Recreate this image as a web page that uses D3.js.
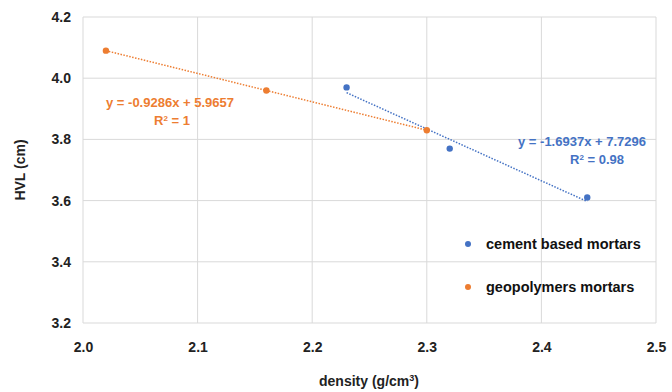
<!DOCTYPE html>
<html><head><meta charset="utf-8">
<script src="https://cdn.jsdelivr.net/npm/d3@7/dist/d3.min.js"></script>
<style>body{margin:0;background:#fff}svg{display:block}text{font-family:"Liberation Sans Narrow","Liberation Sans",Arial,sans-serif}</style>
</head><body><div id="c"></div>
<script>
const cementX = [2.23, 2.32, 2.44];
const cementY = [3.97, 3.77, 3.61];
const geoX = [2.02, 2.16, 2.30];
const geoY = [4.09, 3.96, 3.83];
const seriesNames = ["cement based mortars", "geopolymers mortars"];
const cementFit = {slope: -1.6937, intercept: 7.7296, label: "y = -1.6937x + 7.7296", r2: "R² = 0.98"};
const geoFit = {slope: -0.9286, intercept: 5.9657, label: "y = -0.9286x + 5.9657", r2: "R² = 1"};
const xTicks = [2.0, 2.1, 2.2, 2.3, 2.4, 2.5];
const yTicks = [3.2, 3.4, 3.6, 3.8, 4.0, 4.2];

const W = 672, H = 392;
const m = {l: 83, r: 16, t: 17, b: 69};
const svg = d3.select("#c").append("svg").attr("width", W).attr("height", H);
const x = d3.scaleLinear().domain([2.0, 2.5]).range([m.l, W - m.r]);
const y = d3.scaleLinear().domain([3.2, 4.2]).range([H - m.b, m.t]);
const blue = "#4472C4", orange = "#ED7D31";

// grid
const g = svg.append("g");
g.selectAll(".gy").data(yTicks).join("line")
  .attr("x1", x(2.0)).attr("x2", x(2.5)).attr("y1", d => y(d)).attr("y2", d => y(d))
  .attr("stroke", "#d9d9d9").attr("stroke-width", 1);
g.selectAll(".gx").data(xTicks).join("line")
  .attr("y1", y(3.2)).attr("y2", y(4.2)).attr("x1", d => x(d)).attr("x2", d => x(d))
  .attr("stroke", "#d9d9d9").attr("stroke-width", 1);

// axes labels via d3 axes
const ax = svg.append("g").attr("transform", `translate(0,${y(3.2)})`)
  .call(d3.axisBottom(x).tickValues(xTicks).tickFormat(d3.format(".1f")).tickSize(0).tickPadding(19));
ax.select(".domain").remove();
ax.selectAll("text").attr("font-size", 14).attr("font-weight", "bold").attr("fill", "#222");
const ay = svg.append("g").attr("transform", `translate(${x(2.0)},0)`)
  .call(d3.axisLeft(y).tickValues(yTicks).tickFormat(d3.format(".1f")).tickSize(0).tickPadding(12));
ay.select(".domain").remove();
ay.selectAll("text").attr("font-size", 14).attr("font-weight", "bold").attr("fill", "#222");

svg.append("text").attr("x", 369).attr("y", 386).attr("text-anchor", "middle")
  .attr("font-size", 14).attr("font-weight", "bold").attr("fill", "#222")
  .html('density (g/cm<tspan baseline-shift="super" font-size="9">3</tspan>)');
svg.append("text").attr("transform", "translate(25,170) rotate(-90)").attr("text-anchor", "middle")
  .attr("font-size", 14).attr("font-weight", "bold").attr("fill", "#222").text("HVL (cm)");

// trendlines
function trend(xs, fit, color) {
  const x0 = d3.min(xs), x1 = d3.max(xs);
  svg.append("line").attr("x1", x(x0)).attr("y1", y(fit.slope * x0 + fit.intercept))
    .attr("x2", x(x1)).attr("y2", y(fit.slope * x1 + fit.intercept))
    .attr("stroke", color).attr("stroke-width", 1.5).attr("stroke-dasharray", "1.5,1.5");
}
trend(geoX, geoFit, orange);
trend(cementX, cementFit, blue);

// points
function pts(xs, ys, color) {
  svg.append("g").selectAll("circle").data(xs.map((d, i) => [d, ys[i]])).join("circle")
    .attr("cx", d => x(d[0])).attr("cy", d => y(d[1])).attr("r", 3.2).attr("fill", color);
}
pts(geoX, geoY, orange);
pts(cementX, cementY, blue);

// equations
function eq(cx, cy, fit, color, r2x) {
  svg.append("text").attr("x", cx).attr("y", cy).attr("text-anchor", "middle")
    .attr("font-size", 13).attr("font-weight", "bold").attr("fill", color).text(fit.label);
  svg.append("text").attr("x", r2x).attr("y", cy + 18).attr("text-anchor", "middle")
    .attr("font-size", 13).attr("font-weight", "bold").attr("fill", color)
    .html(fit.r2.replace("²", '<tspan baseline-shift="super" font-size="8">2</tspan>'));
}
eq(170, 107, geoFit, orange, 172);
eq(582, 146, cementFit, blue, 597);

// legend
const leg = [[seriesNames[0], blue, 244], [seriesNames[1], orange, 287]];
leg.forEach(([t, c, ly]) => {
  svg.append("circle").attr("cx", 468).attr("cy", ly).attr("r", 3).attr("fill", c);
  svg.append("text").attr("x", 486).attr("y", ly + 5).attr("font-size", 14.5).attr("font-weight", "bold")
    .attr("fill", "#111").text(t);
});
</script></body></html>
